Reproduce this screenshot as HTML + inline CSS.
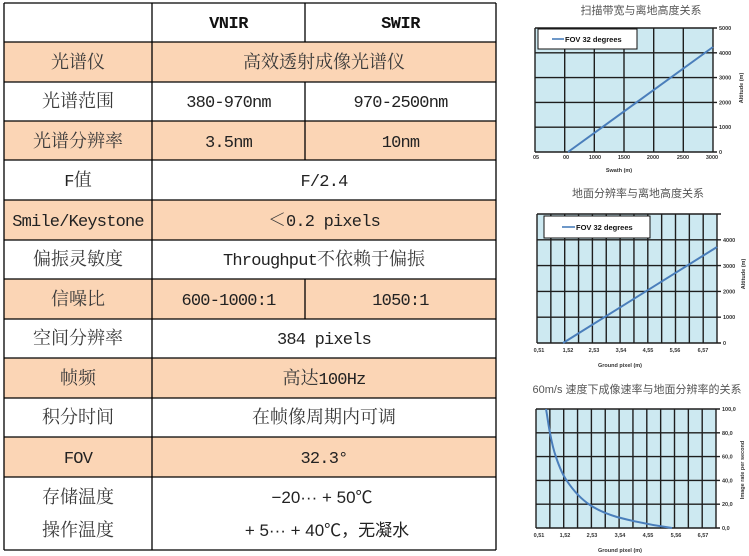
<!DOCTYPE html>
<html><head><meta charset="utf-8"><style>
html,body{margin:0;padding:0;background:#fff;}
svg{display:block;}
.cn{font-family:"Noto Serif CJK SC","Liberation Serif",serif;font-size:18px;fill:#3a3a3a;}
.m{font-family:"Liberation Mono","Noto Serif CJK SC",monospace;font-size:17px;letter-spacing:-0.8px;fill:#222;}
.h{font-family:"Liberation Mono",monospace;font-size:17px;font-weight:bold;fill:#111;letter-spacing:-0.5px;}
.sn{font-family:"Liberation Sans","Noto Sans CJK SC",sans-serif;font-size:17px;fill:#222;}
.t{font-family:"Liberation Sans","Noto Sans CJK SC",sans-serif;font-size:11px;fill:#555;}
.tk{font-family:"Liberation Sans",sans-serif;font-size:5.5px;font-weight:bold;fill:#333;}
.lg{font-family:"Liberation Sans",sans-serif;font-size:7.5px;font-weight:bold;fill:#111;}
</style></head><body>
<svg width="749" height="556" viewBox="0 0 749 556" xmlns="http://www.w3.org/2000/svg">
<rect width="749" height="556" fill="#fff"/>
<!-- TABLE shaded rows -->
<g fill="#fbd5b5">
<rect x="4" y="42" width="492" height="40"/>
<rect x="4" y="121" width="492" height="39"/>
<rect x="4" y="200" width="492" height="40"/>
<rect x="4" y="279" width="492" height="40"/>
<rect x="4" y="358" width="492" height="40"/>
<rect x="4" y="437" width="492" height="40"/>
</g>
<g stroke="#000" stroke-width="1.3">
<line x1="4" y1="3" x2="496" y2="3"/>
<line x1="4" y1="42" x2="496" y2="42"/>
<line x1="4" y1="82" x2="496" y2="82"/>
<line x1="4" y1="121" x2="496" y2="121"/>
<line x1="4" y1="160" x2="496" y2="160"/>
<line x1="4" y1="200" x2="496" y2="200"/>
<line x1="4" y1="240" x2="496" y2="240"/>
<line x1="4" y1="279" x2="496" y2="279"/>
<line x1="4" y1="319" x2="496" y2="319"/>
<line x1="4" y1="358" x2="496" y2="358"/>
<line x1="4" y1="398" x2="496" y2="398"/>
<line x1="4" y1="437" x2="496" y2="437"/>
<line x1="4" y1="477" x2="496" y2="477"/>
<line x1="4" y1="550" x2="496" y2="550"/>
<line x1="4" y1="3" x2="4" y2="550"/>
<line x1="152" y1="3" x2="152" y2="550"/>
<line x1="496" y1="3" x2="496" y2="550"/>
<line x1="305" y1="3" x2="305" y2="42"/>
<line x1="305" y1="82" x2="305" y2="160"/>
<line x1="305" y1="279" x2="305" y2="319"/>
</g>
<!-- header -->
<text class="h" x="228.5" y="28" text-anchor="middle">VNIR</text>
<text class="h" x="400.5" y="28" text-anchor="middle">SWIR</text>
<!-- left col -->
<g class="cn" text-anchor="middle">
<text x="78" y="68">光谱仪</text>
<text x="78" y="107">光谱范围</text>
<text x="78" y="147">光谱分辨率</text>
<text x="78" y="186"><tspan class="m">F</tspan>值</text>
<text x="78" y="226" class="m">Smile/Keystone</text>
<text x="78" y="265">偏振灵敏度</text>
<text x="78" y="305">信噪比</text>
<text x="78" y="344">空间分辨率</text>
<text x="78" y="384">帧频</text>
<text x="78" y="423">积分时间</text>
<text x="78" y="463" class="m">FOV</text>
<text x="78" y="503">存储温度</text>
<text x="78" y="536">操作温度</text>
</g>
<!-- values -->
<g text-anchor="middle">
<text class="cn" x="324" y="68">高效透射成像光谱仪</text>
<text class="m" x="228.5" y="107">380-970nm</text>
<text class="m" x="400.5" y="107">970-2500nm</text>
<text class="m" x="228.5" y="147">3.5nm</text>
<text class="m" x="400.5" y="147">10nm</text>
<text class="m" x="324" y="186">F/2.4</text>
<text class="cn" x="324" y="226">＜<tspan class="m">0.2 pixels</tspan></text>
<text class="cn" x="324" y="265"><tspan class="m">Throughput</tspan>不依赖于偏振</text>
<text class="m" x="228.5" y="305">600-1000:1</text>
<text class="m" x="400.5" y="305">1050:1</text>
<text class="m" x="324" y="344">384 pixels</text>
<text class="cn" x="324" y="384">高达<tspan class="m">100Hz</tspan></text>
<text class="cn" x="324" y="423">在帧像周期内可调</text>
<text class="m" x="324" y="463">32.3°</text>
<text class="sn" x="322" y="503">−20··· + 50℃</text>
<text class="sn" x="327" y="536">+ 5··· + 40℃，无凝水</text>
</g>

<!-- CHART 1 -->
<text class="t" x="641" y="14" text-anchor="middle">扫描带宽与离地高度关系</text>
<rect x="535" y="28" width="178" height="124" fill="#cde9f1"/>
<g stroke="#1e1e1e" stroke-width="1.4">
<line x1="535" y1="28" x2="535" y2="152"/>
<line x1="564.7" y1="28" x2="564.7" y2="152"/>
<line x1="594.3" y1="28" x2="594.3" y2="152"/>
<line x1="624" y1="28" x2="624" y2="152"/>
<line x1="653.7" y1="28" x2="653.7" y2="152"/>
<line x1="683.3" y1="28" x2="683.3" y2="152"/>
<line x1="713" y1="28" x2="713" y2="152"/>
<line x1="535" y1="28" x2="717" y2="28"/>
<line x1="535" y1="52.8" x2="717" y2="52.8"/>
<line x1="535" y1="77.6" x2="717" y2="77.6"/>
<line x1="535" y1="102.4" x2="717" y2="102.4"/>
<line x1="535" y1="127.2" x2="717" y2="127.2"/>
<line x1="535" y1="152" x2="717" y2="152"/>
</g>
<rect x="538" y="29" width="99" height="20" fill="#fff" stroke="#111" stroke-width="1"/>
<line x1="552" y1="39" x2="564" y2="39" stroke="#4a7ebb" stroke-width="1.6"/>
<text class="lg" x="565" y="42">FOV 32 degrees</text>
<line x1="568" y1="152" x2="713" y2="47" stroke="#4a7ebb" stroke-width="2"/>
<g class="tk">
<text x="719" y="30">5000</text>
<text x="719" y="54.8">4000</text>
<text x="719" y="79.6">3000</text>
<text x="719" y="104.4">2000</text>
<text x="719" y="129.2">1000</text>
<text x="719" y="154">0</text>
</g>
<g class="tk" text-anchor="middle">
<text x="536" y="159">05</text>
<text x="566" y="159">00</text>
<text x="595" y="159">1000</text>
<text x="624" y="159">1500</text>
<text x="653" y="159">2000</text>
<text x="683" y="159">2500</text>
<text x="712" y="159">3000</text>
<text x="619" y="172">Swath (m)</text>
<text transform="translate(743,88) rotate(-90)">Altitude (m)</text>
</g>

<!-- CHART 2 -->
<text class="t" x="638" y="197" text-anchor="middle">地面分辨率与离地高度关系</text>
<rect x="537" y="214" width="180" height="129" fill="#cde9f1"/>
<g stroke="#1e1e1e" stroke-width="1.4">
<line x1="537" y1="214" x2="537" y2="343"/>
<line x1="550.85" y1="214" x2="550.85" y2="343"/>
<line x1="564.7" y1="214" x2="564.7" y2="343"/>
<line x1="578.55" y1="214" x2="578.55" y2="343"/>
<line x1="592.4" y1="214" x2="592.4" y2="343"/>
<line x1="606.25" y1="214" x2="606.25" y2="343"/>
<line x1="620.1" y1="214" x2="620.1" y2="343"/>
<line x1="633.95" y1="214" x2="633.95" y2="343"/>
<line x1="647.8" y1="214" x2="647.8" y2="343"/>
<line x1="661.65" y1="214" x2="661.65" y2="343"/>
<line x1="675.5" y1="214" x2="675.5" y2="343"/>
<line x1="689.35" y1="214" x2="689.35" y2="343"/>
<line x1="703.2" y1="214" x2="703.2" y2="343"/>
<line x1="717" y1="214" x2="717" y2="343"/>
<line x1="537" y1="214" x2="721" y2="214"/>
<line x1="537" y1="239.8" x2="721" y2="239.8"/>
<line x1="537" y1="265.6" x2="721" y2="265.6"/>
<line x1="537" y1="291.4" x2="721" y2="291.4"/>
<line x1="537" y1="317.2" x2="721" y2="317.2"/>
<line x1="537" y1="343" x2="721" y2="343"/>
</g>
<rect x="544" y="216" width="106" height="22" fill="#fff" stroke="#111" stroke-width="1"/>
<line x1="562" y1="227" x2="575" y2="227" stroke="#4a7ebb" stroke-width="1.6"/>
<text class="lg" x="576" y="230">FOV 32 degrees</text>
<line x1="563" y1="343" x2="717" y2="247" stroke="#4a7ebb" stroke-width="2"/>
<g class="tk">
<text x="723" y="242">4000</text>
<text x="723" y="268">3000</text>
<text x="723" y="293.5">2000</text>
<text x="723" y="319">1000</text>
<text x="723" y="345">0</text>
</g>
<g class="tk" text-anchor="middle">
<text x="539" y="352">0,51</text>
<text x="568" y="352">1,52</text>
<text x="594" y="352">2,53</text>
<text x="621" y="352">3,54</text>
<text x="648" y="352">4,55</text>
<text x="675" y="352">5,56</text>
<text x="703" y="352">6,57</text>
<text x="620" y="367">Ground pixel (m)</text>
<text transform="translate(745,274) rotate(-90)">Altitude (m)</text>
</g>

<!-- CHART 3 -->
<text class="t" x="637" y="393" text-anchor="middle">60m/s 速度下成像速率与地面分辨率的关系</text>
<rect x="536" y="409" width="180" height="119" fill="#cde9f1"/>
<g stroke="#1e1e1e" stroke-width="1.4">
<line x1="536" y1="409" x2="536" y2="528"/>
<line x1="549.85" y1="409" x2="549.85" y2="528"/>
<line x1="563.7" y1="409" x2="563.7" y2="528"/>
<line x1="577.55" y1="409" x2="577.55" y2="528"/>
<line x1="591.4" y1="409" x2="591.4" y2="528"/>
<line x1="605.25" y1="409" x2="605.25" y2="528"/>
<line x1="619.1" y1="409" x2="619.1" y2="528"/>
<line x1="632.95" y1="409" x2="632.95" y2="528"/>
<line x1="646.8" y1="409" x2="646.8" y2="528"/>
<line x1="660.65" y1="409" x2="660.65" y2="528"/>
<line x1="674.5" y1="409" x2="674.5" y2="528"/>
<line x1="688.35" y1="409" x2="688.35" y2="528"/>
<line x1="702.2" y1="409" x2="702.2" y2="528"/>
<line x1="716" y1="409" x2="716" y2="528"/>
<line x1="536" y1="409" x2="720" y2="409"/>
<line x1="536" y1="432.8" x2="720" y2="432.8"/>
<line x1="536" y1="456.6" x2="720" y2="456.6"/>
<line x1="536" y1="480.4" x2="720" y2="480.4"/>
<line x1="536" y1="504.2" x2="720" y2="504.2"/>
<line x1="536" y1="528" x2="720" y2="528"/>
</g>
<path d="M546,409 C547.5,417 548.5,426 550,433 C551.5,441 553.5,450 556,457 C559,466 562,474 567,481 C573,490 581,499 590,505 C599,511 607,514 617,517 C632,521 650,525 672,528" fill="none" stroke="#4a7ebb" stroke-width="2"/>
<g class="tk">
<text x="722" y="411">100,0</text>
<text x="722" y="434.8">80,0</text>
<text x="722" y="458.6">60,0</text>
<text x="722" y="482.4">40,0</text>
<text x="722" y="506.2">20,0</text>
<text x="722" y="530">0,0</text>
</g>
<g class="tk" text-anchor="middle">
<text x="539" y="537">0,51</text>
<text x="565" y="537">1,52</text>
<text x="592" y="537">2,53</text>
<text x="620" y="537">3,54</text>
<text x="648" y="537">4,55</text>
<text x="676" y="537">5,56</text>
<text x="703" y="537">6,57</text>
<text x="620" y="552">Ground pixel (m)</text>
<text transform="translate(744,470) rotate(-90)">Image rate per second</text>
</g>
</svg>
</body></html>
